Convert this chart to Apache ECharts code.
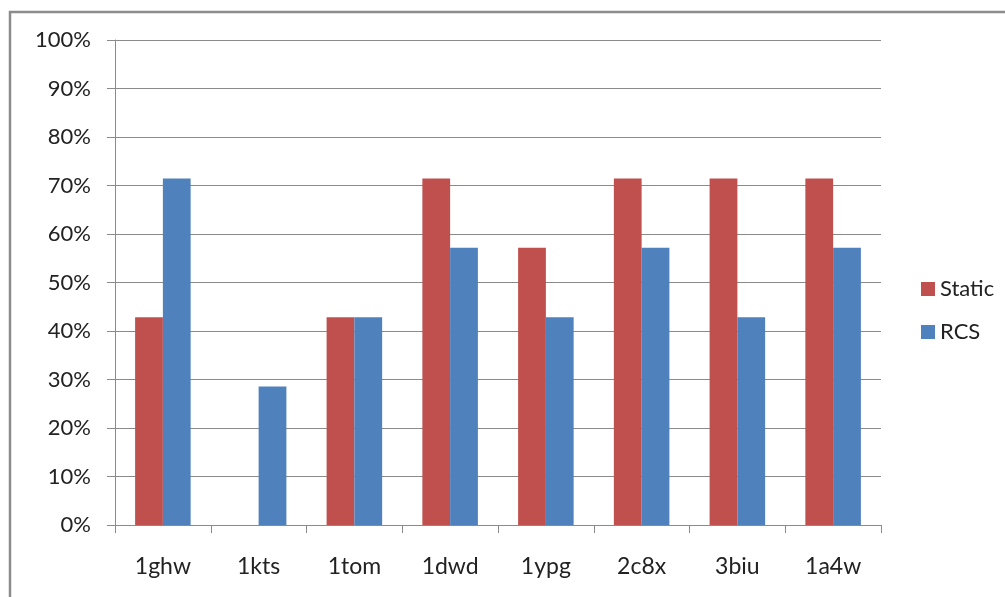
<!DOCTYPE html>
<html>
<head>
<meta charset="utf-8">
<script src="https://cdn.jsdelivr.net/npm/echarts@6/dist/echarts.min.js"></script>
<style>
  html, body { margin: 0; padding: 0; background: #fff; }
  #chart { width: 1005px; height: 597px; }
</style>
</head>
<body>
<div id="chart"></div>
<script>
// Structures and their scores per method (percent)
const categories = ['1ghw', '1kts', '1tom', '1dwd', '1ypg', '2c8x', '3biu', '1a4w'];
const staticValues = [42.86, 0, 42.86, 71.43, 57.14, 71.43, 71.43, 71.43];
const rcsValues = [71.43, 28.57, 42.86, 57.14, 42.86, 57.14, 42.86, 57.14];
const seriesNames = ['Static', 'RCS'];

const FONT = 'Lato, "Liberation Sans", sans-serif';
const GRID_COLOR = '#8a8a8a';

const chart = echarts.init(document.getElementById('chart'), null, { renderer: 'canvas' });

chart.setOption({
  animation: false,
  backgroundColor: '#ffffff',
  textStyle: { fontFamily: FONT },
  graphic: [{
    // chart frame, running off the right and bottom edges
    type: 'rect',
    shape: { x: 10, y: 12, width: 1100, height: 700 },
    style: { fill: 'none', stroke: '#8c8c8c', lineWidth: 2.5 },
    silent: true
  }],
  grid: { left: 115, right: 124, top: 40, bottom: 72 },
  legend: {
    orient: 'vertical',
    left: 916,
    top: 273,
    itemWidth: 14,
    itemHeight: 14,
    itemGap: 21,
    icon: 'rect',
    textStyle: { fontSize: 22, color: '#222', fontFamily: FONT },
    data: seriesNames
  },
  xAxis: {
    type: 'category',
    data: categories,
    boundaryGap: true,
    axisLine: { show: true, lineStyle: { color: GRID_COLOR, width: 1 } },
    axisTick: { show: true, length: 8, alignWithLabel: false, lineStyle: { color: GRID_COLOR } },
    axisLabel: { margin: 30, fontSize: 23, color: '#222', fontFamily: FONT },
    splitLine: { show: false }
  },
  yAxis: {
    type: 'value',
    min: 0,
    max: 100,
    interval: 10,
    axisLine: { show: true, lineStyle: { color: GRID_COLOR, width: 1 } },
    axisTick: { show: true, length: 8, lineStyle: { color: GRID_COLOR } },
    axisLabel: {
      margin: 24,
      fontSize: 22,
      color: '#222',
      fontFamily: FONT,
      formatter: v => v + '%'
    },
    splitLine: { show: true, lineStyle: { color: GRID_COLOR, width: 1 } }
  },
  series: [
    {
      name: seriesNames[0],
      type: 'bar',
      data: staticValues,
      barGap: '0%',
      barCategoryGap: '42%',
      itemStyle: { color: '#C0504D' }
    },
    {
      name: seriesNames[1],
      type: 'bar',
      data: rcsValues,
      barGap: '0%',
      barCategoryGap: '42%',
      itemStyle: { color: '#4F81BD' }
    }
  ]
});
</script>
</body>
</html>
